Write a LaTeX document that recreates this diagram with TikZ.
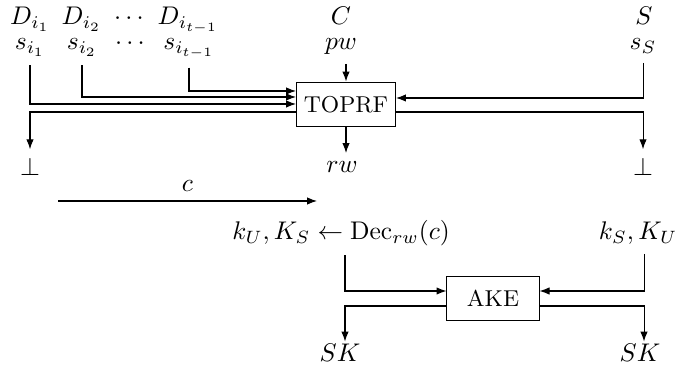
\documentclass[tikz,border=0pt]{standalone}
\usetikzlibrary{arrows.meta,calc}
\begin{document}
\begin{tikzpicture}[x=0.392pt,y=-0.392pt,
  arr/.style={-{Latex[length=3.9pt,width=2.9pt]}},
  lbl/.style={anchor=base},
  toplbl/.style={anchor=base,inner sep=0.5pt},
  boxnode/.style={draw,font=\small,minimum height=17.6pt,inner sep=0pt}]
\useasboundingbox (0,0) rectangle (699,380);
% top labels
\node[toplbl] (Di1) at (30,25) {$D_{i_1}$};
\node[toplbl] (Di2) at (81.5,25) {$D_{i_2}$};
\node[toplbl] (dots1) at (129,25) {$\cdots$};
\node[toplbl] (Ditm1) at (188,25) {$D_{i_{t-1}}$};
\node[toplbl] (C) at (341,25) {$C$};
\node[toplbl] (S) at (644,25) {$S$};
\node[lbl] (si1) at (30,50) {$s_{i_1}$};
\node[lbl] (si2) at (82,50) {$s_{i_2}$};
\node[toplbl] (dots2) at (130,50) {$\cdots$};
\node[lbl] (sitm1) at (189,50) {$s_{i_{t-1}}$};
\node[lbl] (pw) at (341,50) {$pw$};
\node[lbl] (sS) at (643,50) {$s_S$};
% TOPRF
\node[boxnode,minimum width=38.8pt] (toprf) at (346,104.5) {TOPRF};
\node[lbl] (botL) at (30,176) {$\bot$};
\node[lbl] (botR) at (643,176) {$\bot$};
\node[lbl] (rw) at (342,173) {$rw$};
\draw[arr] (si1.south) |- (toprf.west |- 0,104);
\draw[arr] (si2.south) |- (toprf.west |- 0,97);
\draw[arr] (sitm1.south) |- (toprf.west |- 0,91);
\draw[arr] (sS.south) |- (toprf.east |- 0,98);
\draw[arr] (toprf.west |- 0,112) -| (botL.north);
\draw[arr] (toprf.east |- 0,112) -| (botR.north);
\draw[arr] (pw.south -| toprf.north) -- (toprf.north);
\draw[arr] (toprf.south) -- (rw.north -| toprf.south);
% c
\coordinate (cs) at (58,201);
\coordinate (ce) at (317,201);
\draw[arr] (cs) -- node[above] (clab) {$c$} (ce);
% AKE
\coordinate (colL) at (345,0);
\coordinate (colR) at (644,0);
\node[lbl] (dec) at (341,240) {$k_U, K_S \leftarrow \mathrm{Dec}_{rw}(c)$};
\node[lbl] (ks) at (638,240) {$k_S, K_U$};
\node[boxnode,minimum width=36.1pt] (ake) at (493,298.5) {AKE};
\node[lbl] (skL) at (340,361) {$SK$};
\node[lbl] (skR) at (640,361) {$SK$};
\draw[arr] (dec.south -| colL) |- (ake.west |- 0,291);
\draw[arr] (ks.south -| colR) |- (ake.east |- 0,291);
\draw[arr] (ake.west |- 0,306) -| ($(skL.north -| colL)+(0,7)$);
\draw[arr] (ake.east |- 0,306) -| ($(skR.north -| colR)+(0,7)$);
\end{tikzpicture}
\end{document}
